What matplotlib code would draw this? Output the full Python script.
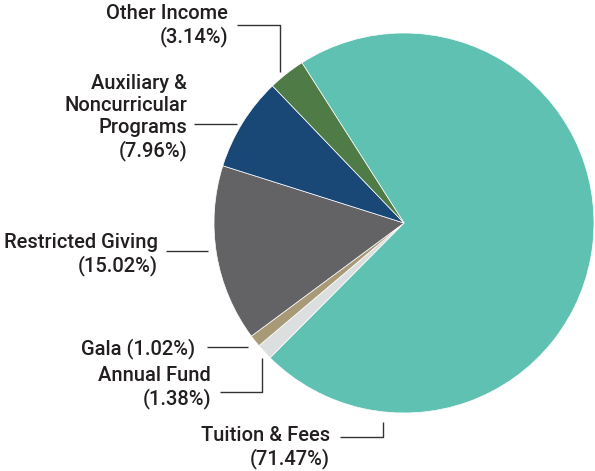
import matplotlib
matplotlib.use("Agg")
import matplotlib.pyplot as plt

# revenue shares (%)
labels = ["Tuition & Fees", "Annual Fund", "Gala", "Restricted Giving",
          "Auxiliary &\nNoncurricular\nPrograms", "Other Income"]
shares = [71.47, 1.38, 1.02, 15.02, 7.96, 3.14]
colors = ["#5ec1b2", "#dcdfe0", "#a89a76", "#636366", "#1a4876", "#4e7b46"]

W, H = 595, 471
fig = plt.figure(figsize=(W / 100, H / 100), dpi=100)
ax = fig.add_axes([0, 0, 1, 1])

cx, cy, r = 404, H - 223, 190
ax.pie(shares, colors=colors, startangle=122.5, counterclock=False,
       center=(cx, cy), radius=r, frame=True,
       wedgeprops=dict(edgecolor="white", linewidth=0.5))
ax.set_xlim(0, W)
ax.set_ylim(0, H)
ax.set_aspect("equal")
ax.axis("off")

plt.rcParams["font.family"] = ["Roboto", "DejaVu Sans"]

# label text anchor (right edge, top) and leader polyline, in pixels from top-left
label_pos = [(330, 426), (211, 366), (195, 338), (158, 233), (187, 74), (228, 4)]
leaders = [
    [(340, 437), (383, 437), (383, 422)],
    [(220, 392), (262, 392), (262, 358)],
    [(207, 347), (248, 347)],
    [(166, 251), (208, 251)],
    [(194, 124), (237, 124)],
    [(237, 25), (280, 25), (280, 72)],
]

for lab, val, (tx, ty), pts in zip(labels, shares, label_pos, leaders):
    if lab == "Gala":
        txt = "%s (%.2f%%)" % (lab, val)
    else:
        txt = "%s\n(%.2f%%)" % (lab, val)
    ax.text(tx, H - ty, txt, ha="right", va="top", fontsize=14.5,
            fontweight="medium", color="#231f20", linespacing=1.2)
    xs = [p[0] for p in pts]
    ys = [H - p[1] for p in pts]
    ax.plot(xs, ys, color="#333333", linewidth=1.0, solid_capstyle="butt")

fig.savefig("out.png", dpi=100)
